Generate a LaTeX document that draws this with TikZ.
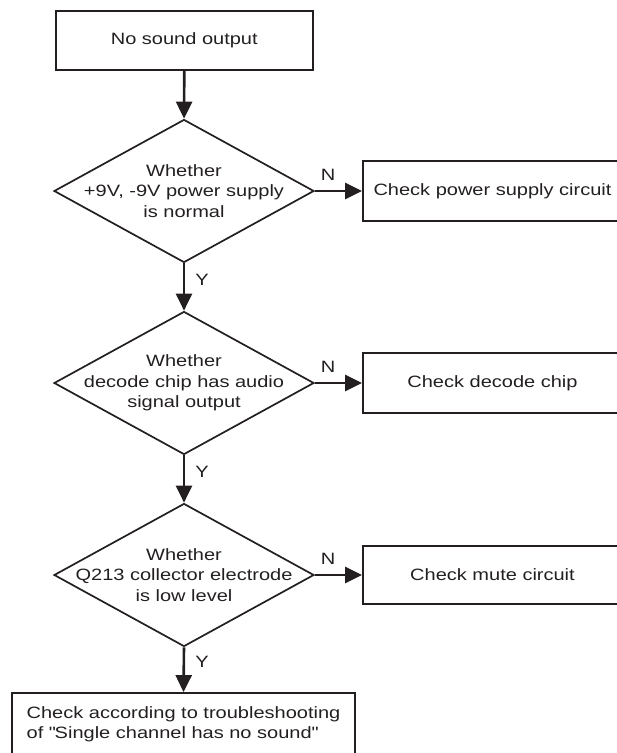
\documentclass[tikz,border=0pt]{standalone}
\usepackage{fontspec}
\setmainfont{Liberation Sans}[FakeStretch=1.22]
\usetikzlibrary{shapes.geometric,arrows.meta}
\definecolor{ink}{HTML}{231F20}
\begin{document}
\begin{tikzpicture}[x=1pt,y=1pt,
  every node/.style={font=\fontsize{16.4}{20.5}\selectfont, text=ink},
  box/.style={draw=ink, line width=1.8pt, rectangle, inner sep=0pt, align=center},
  dec/.style={draw=ink, line width=1.7pt, diamond, minimum width=260pt, minimum height=143pt, inner sep=0pt},
  dtext/.style={align=center, inner sep=0pt},
  arr/.style={draw=ink, line width=2.6pt, -{Triangle[length=17pt,width=16pt]}},
  lab/.style={inner sep=0pt}]
\useasboundingbox (0,0) rectangle (617,-753);
\begin{scope}[overlay]
\clip (0,0) rectangle (617,-753);
% start
\node[box, minimum width=257pt, minimum height=59.5pt] (s) at (184.3,-40.5) {No sound output};
% decisions
\node[dec] (d1) at (184,-191) {};
\node[dtext] (d1t) at (184,-191) {Whether\\+9V, -9V power supply\\is normal};
\node[dec] (d2) at (184,-383) {};
\node[dtext] (d2t) at (184,-383) {Whether\\decode chip has audio\\signal output};
\node[dec] (d3) at (184,-575) {};
\node[dtext] (d3t) at (184,-575) {Whether\\Q213 collector electrode\\is low level};
% right boxes
\node[box, minimum width=259pt, minimum height=59.5pt] (b1) at (492.5,-191) {Check power supply circuit};
\node[box, minimum width=259pt, minimum height=60pt] (b2) at (492.5,-383) {Check decode chip};
\node[box, minimum width=259pt, minimum height=58pt] (b3) at (492.5,-575) {Check mute circuit};
% final
\node[box, minimum width=343pt, minimum height=62pt, align=left] (f) at (183.5,-724) {Check according to troubleshooting\\of \textquotedbl Single channel has no sound\textquotedbl};
% connectors
\draw[arr] (s.south) -- (d1.north);
\draw[arr] (d1.south) -- (d2.north);
\draw[arr] (d2.south) -- (d3.north);
\draw[arr] (d3.south) -- (f.north);
\draw[arr] (d1.east) -- (b1.west);
\draw[arr] (d2.east) -- (b2.west);
\draw[arr] (d3.east) -- (b3.west);
% labels
\node[lab] (n1) at (328,-175) {N};
\node[lab] (n2) at (328,-367) {N};
\node[lab] (n3) at (328,-559) {N};
\node[lab] (y1) at (202,-280) {Y};
\node[lab] (y2) at (202,-472) {Y};
\node[lab] (y3) at (202,-662) {Y};
\end{scope}
\end{tikzpicture}
\end{document}
